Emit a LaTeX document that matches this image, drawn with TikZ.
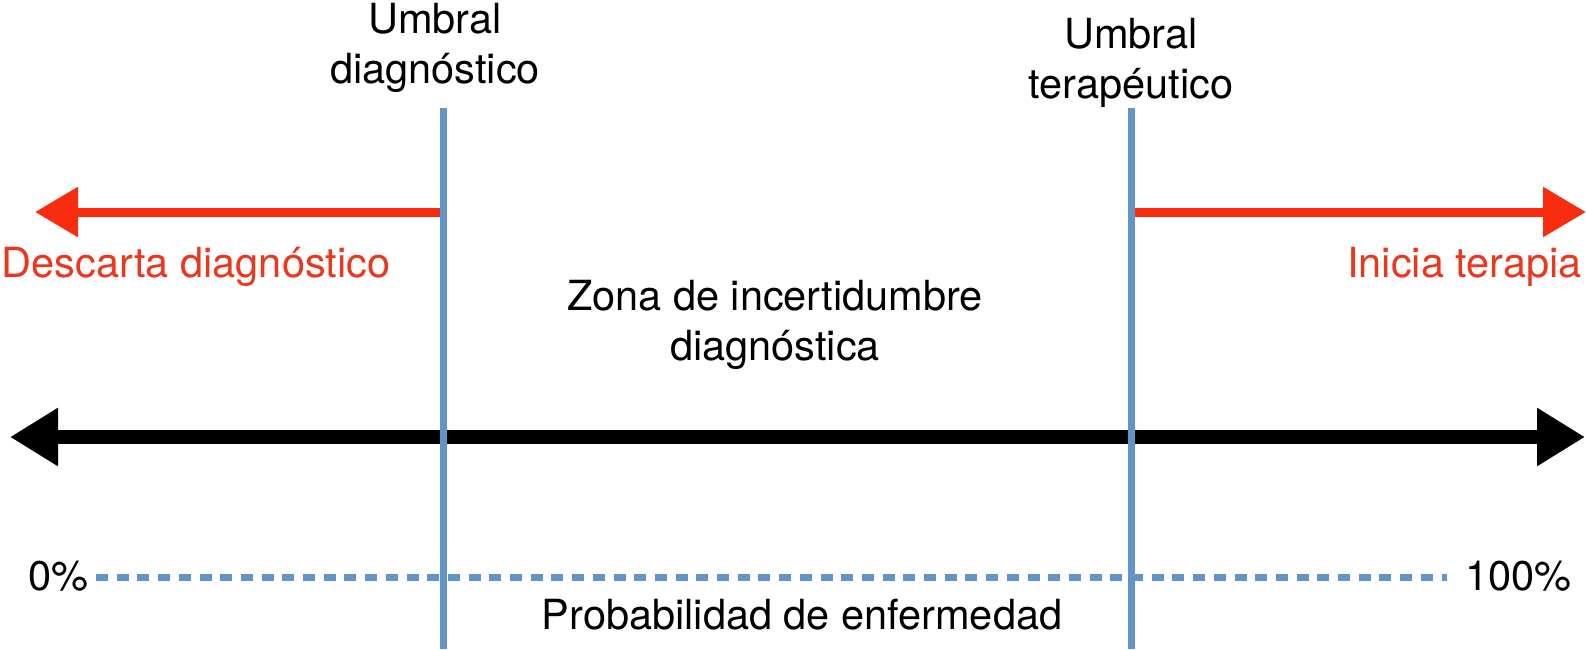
\documentclass[tikz,border=0pt]{standalone}
\usepackage{fontspec}
\setmainfont{TeX Gyre Heros}
\usetikzlibrary{arrows.meta}
\definecolor{myred}{RGB}{234,55,30}
\definecolor{arrred}{RGB}{248,45,15}
\definecolor{myblue}{RGB}{99,148,201}
\tikzset{
  lbl/.style={font=\fontsize{41.5}{50.5}\selectfont, inner sep=0pt, align=center},
  redlbl/.style={lbl, text=myred},
  vline/.style={draw=myblue, line width=7pt},
  redarrow/.style={draw=arrred, line width=9pt, -{Triangle[length=43pt,width=48pt]}},
  axis/.style={draw=black, line width=14pt, {Triangle[length=48pt,width=55pt]}-{Triangle[length=48pt,width=55pt]}},
  probline/.style={draw=myblue, line width=7pt, dash pattern=on 12pt off 8.7pt}
}
\begin{document}
\begin{tikzpicture}[x=1pt,y=-1pt]
\useasboundingbox (0,0) rectangle (1587,649);
% thresholds
\coordinate (dtop) at (443,108);
\coordinate (dbot) at (443,649);
\coordinate (ttop) at (1131,108);
\coordinate (tbot) at (1131,649);
\node[lbl] (ud) at (435,48) {Umbral\\diagnóstico};
\node[lbl] (ut) at (1131,63) {Umbral\\terapéutico};
% red arrows
\coordinate (rl0) at (443,212);
\coordinate (rl1) at (35,212);
\coordinate (rr0) at (1131,212);
\coordinate (rr1) at (1586,212);
\draw[redarrow] (rl0) -- (rl1);
\draw[redarrow] (rr0) -- (rr1);
\node[redlbl] (desc) at (196,267) {Descarta diagnóstico};
\node[redlbl, anchor=east] (ini) at (1582,267) {Inicia terapia};
\node[lbl] (zona) at (775,325) {Zona de incertidumbre\\diagnóstica};
% axis
\coordinate (a0) at (10,437);
\coordinate (a1) at (1585,437);
\draw[axis] (a0) -- (a1);
% probability line
\node[lbl, anchor=east] (p0) at (89,576) {0\%};
\node[lbl, anchor=west] (p100) at (1465,576) {100\%};
\draw[probline] ([xshift=7pt,yshift=-1pt]p0.east) -- ([xshift=-18pt,yshift=-1pt]p100.west);
\node[lbl] (prob) at (802,615) {Probabilidad de enfermedad};
% vertical lines on top
\draw[vline] (dtop) -- (dbot);
\draw[vline] (ttop) -- (tbot);
\end{tikzpicture}
\end{document}
